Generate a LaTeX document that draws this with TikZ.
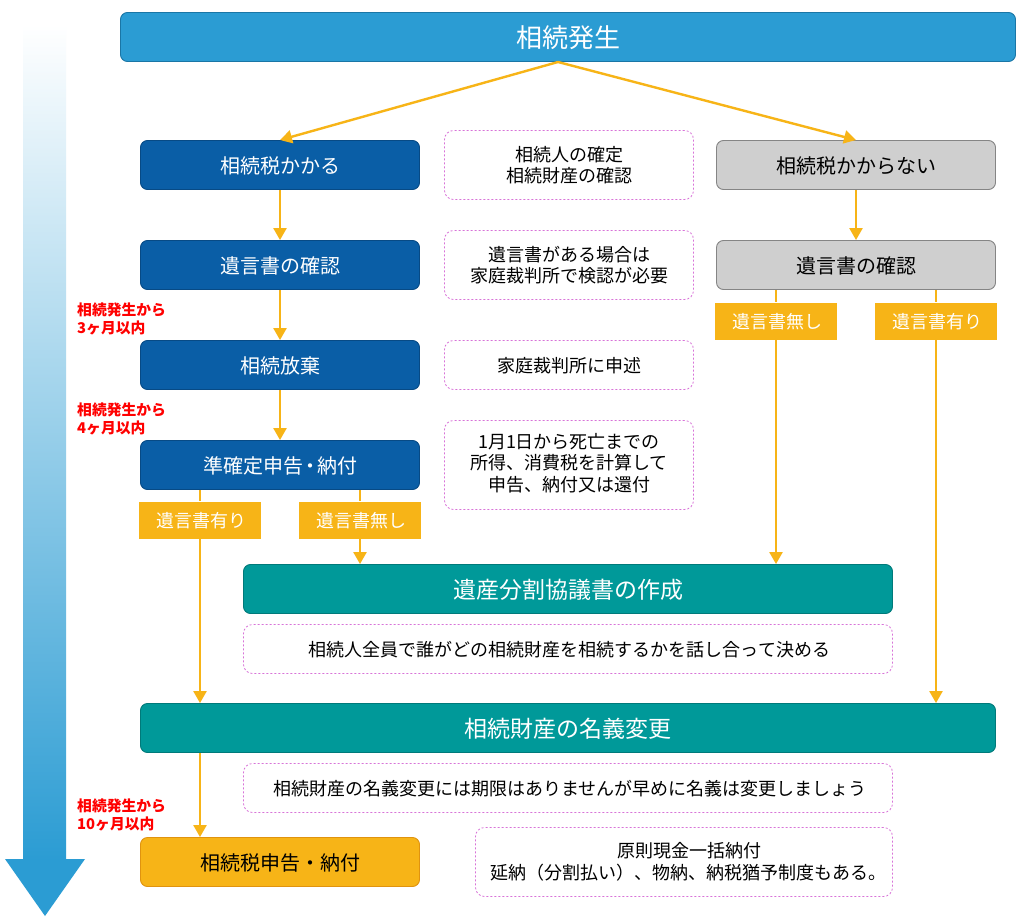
\documentclass[tikz,border=0pt]{standalone}
\usepackage{fontspec}
\setmainfont{Noto Sans CJK JP}
\usetikzlibrary{arrows.meta}
\definecolor{top}{HTML}{2B9CD3}
\definecolor{topd}{HTML}{1A76A6}
\definecolor{navy}{HTML}{0A5EA6}
\definecolor{navyd}{HTML}{074A85}
\definecolor{teal2}{HTML}{009999}
\definecolor{teald}{HTML}{007A7A}
\definecolor{amber}{HTML}{F7B417}
\definecolor{amberd}{HTML}{E0930F}
\definecolor{grayb}{HTML}{CFCFCF}
\definecolor{grayd}{HTML}{858585}
\definecolor{dashc}{HTML}{D873D8}
\tikzset{x=1pt,y=-1pt,
 box/.style={draw,rounded corners=7pt,line width=0.9pt,inner sep=0pt,font=\fontsize{20}{24}\selectfont,text height=19.6pt,text depth=2.4pt},
 navybox/.style={box,fill=navy,draw=navyd,text=white,minimum width=279pt,minimum height=49pt},
 graybox/.style={box,fill=grayb,draw=grayd,text=black,minimum width=279pt,minimum height=49pt},
 tealbox/.style={box,fill=teal2,draw=teald,text=white,font=\fontsize{23}{26}\selectfont,text height=22.3pt,text depth=2.8pt},
 note/.style={draw=dashc,dash pattern=on 2pt off 2pt,line width=0.8pt,fill=white,rounded corners=9pt,inner sep=0pt,align=center,font=\fontsize{18}{21.5}\selectfont},
 onenote/.style={note,text height=17.9pt,text depth=2.2pt},
 tag/.style={fill=amber,text=white,minimum width=122pt,minimum height=37pt,inner sep=0pt,font=\fontsize{18}{20}\selectfont,text height=17.9pt,text depth=2.2pt},
 redtext/.style={text=red,font=\bfseries\fontsize{14.8}{18}\selectfont,align=left,anchor=north west,inner sep=0pt},
 arr/.style={draw=amber,line width=2.4pt,-{Triangle[length=12pt,width=13pt]}},
 plain/.style={draw=amber,line width=2.4pt},
}
\begin{document}
\begin{tikzpicture}
\useasboundingbox (0,0) rectangle (1020,920);
\fill[white] (0,0) rectangle (1020,920);
% time arrow
\shade[top color=white,bottom color=top,shading angle=0] (23,25) rectangle (66,860);
\fill[top] (5,859) -- (85,859) -- (45,916) -- cycle;
% boxes
\node[box,fill=top,draw=topd,text=white,minimum width=895pt,minimum height=49pt,font=\fontsize{26}{30}\selectfont,text height=24.9pt,text depth=3.1pt] (start) at (568,37) {相続発生};
\node[navybox] (a1) at (280,165) {相続税かかる};
\node[navybox] (a2) at (280,265) {遺言書の確認};
\node[navybox] (a3) at (280,365) {相続放棄};
\node[navybox] (a4) at (280,465) {準確定申告\kern-3pt・\kern-3pt納付};
\node[graybox] (b1) at (856,165) {相続税かからない};
\node[graybox] (b2) at (856,265) {遺言書の確認};
\node[tealbox,minimum width=649pt,minimum height=49pt] (c1) at (568,589) {遺産分割協議書の作成};
\node[tealbox,minimum width=855pt,minimum height=49pt] (c2) at (568,728) {相続財産の名義変更};
\node[box,fill=amber,draw=amberd,text=black,minimum width=279pt,minimum height=49pt] (d) at (280,862) {相続税申告・納付};
% notes
\node[note,minimum width=249pt,minimum height=69pt] (n1) at (569,165) {相続人の確定\\相続財産の確認};
\node[note,minimum width=249pt,minimum height=69pt] (n2) at (569,265) {遺言書がある場合は\\家庭裁判所で検認が必要};
\node[onenote,minimum width=249pt,minimum height=49pt] (n3) at (569,365) {家庭裁判所に申述};
\node[note,minimum width=249pt,minimum height=89pt] (n4) at (569,465) {1月1日から死亡までの\\所得、消費税を計算して\\申告、納付又は還付\rule[-6pt]{0pt}{6pt}};
\node[onenote,minimum width=649pt,minimum height=49pt] (n5) at (568,649) {\kern3pt 相続人全員で誰がどの相続財産を相続するかを話し合って決める};
\node[onenote,minimum width=649pt,minimum height=49pt] (n6) at (568,788) {\kern4pt 相続財産の名義変更には期限はありませんが早めに名義は変更しましょう};
\node[note,minimum width=417pt,minimum height=69pt] (n7) at (684,862) {\hspace*{11pt}原則現金一括納付\\\hspace*{9pt}延納（分割払い）、物納、納税猶予制度もある。};
% tags
\node[tag] (t1) at (200,520) {\kern3pt 遺言書有り};
\node[tag] (t2) at (360,520) {\kern3pt 遺言書無し};
\node[tag] (t3) at (776,321) {\kern2pt 遺言書無し};
\node[tag] (t4) at (936,321) {\kern2pt 遺言書有り};
% red labels
\node[redtext] (r1) at (77,303) {相続発生から\\3ヶ月以内};
\node[redtext] (r2) at (77,403) {相続発生から\\4ヶ月以内};
\node[redtext] (r3) at (77,799) {相続発生から\\10ヶ月以内};
% connectors
\coordinate (sb) at (558,62);
\draw[arr] (sb) -- (a1.north);
\draw[arr] (sb) -- (b1.north);
\draw[arr] (a1) -- (a2);
\draw[arr] (a2) -- (a3);
\draw[arr] (a3) -- (a4);
\draw[arr] (b1) -- (b2);
\draw[plain] (a4.south -| t1) -- (t1.north);
\draw[arr] (t1.south) -- (c2.north -| t1);
\draw[plain] (a4.south -| t2) -- (t2.north);
\draw[arr] (t2.south) -- (c1.north -| t2);
\draw[plain] (b2.south -| t3) -- (t3.north);
\draw[arr] (t3.south) -- (c1.north -| t3);
\draw[plain] (b2.south -| t4) -- (t4.north);
\draw[arr] (t4.south) -- (c2.north -| t4);
\draw[arr] (c2.south -| t1) -- (d.north -| t1);
\end{tikzpicture}
\end{document}
